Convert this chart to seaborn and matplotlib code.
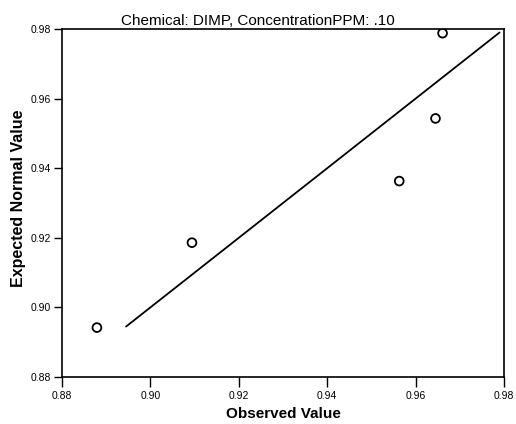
import matplotlib
matplotlib.use("Agg")
import matplotlib.pyplot as plt
import seaborn as sns
import pandas as pd

observed = [0.8879, 0.9094, 0.9563, 0.9645, 0.9661]
expected = [0.8942, 0.9186, 0.9363, 0.9543, 0.9788]
ref_line = [0.8945, 0.9790]
ticks = [0.88, 0.90, 0.92, 0.94, 0.96, 0.98]

sns.set_theme(style="white")
plt.rcParams['font.family'] = ['Liberation Sans', 'DejaVu Sans']

W, H = 516, 424
fig = plt.figure(figsize=(W / 100, H / 100), dpi=100)
ax = fig.add_axes([62/W, 1-377/H, (504-62)/W, (377-29)/H])

df = pd.DataFrame({"obs": observed, "exp": expected})
line_df = pd.DataFrame({"x": ref_line, "y": ref_line})

sns.lineplot(data=line_df, x="x", y="y", ax=ax, color="black", linewidth=1.3)
sns.scatterplot(data=df, x="obs", y="exp", ax=ax, marker="o", s=40,
                facecolor="none", edgecolor="black", linewidth=1.3, zorder=3)

ax.set_xlim(0.88, 0.98)
ax.set_ylim(0.88, 0.98)
ax.set_xticks(ticks)
ax.set_yticks(ticks)
ax.set_xticklabels([f"{t:.2f}" for t in ticks], fontsize=7.5)
ax.set_yticklabels([f"{t:.2f}" for t in ticks], fontsize=7.5)
ax.tick_params(axis="x", direction="out", length=7, width=1, color="black",
               labelcolor="black", pad=3, bottom=True)
ax.tick_params(axis="y", direction="out", length=6, width=1, color="black",
               labelcolor="black", pad=2, left=True)
for sp in ax.spines.values():
    sp.set_color("black")
    sp.set_linewidth(1.2)

ax.set_xlabel("")
ax.set_ylabel("")
fig.text(283/W, 1-418/H, "Observed Value", fontsize=11, fontweight="bold",
         color="black", ha="center", va="baseline")
fig.text(18.5/W, 1-198/H, "Expected Normal Value", fontsize=11.5, fontweight="bold",
         color="black", ha="center", va="center", rotation=90)
fig.text(258/W, 1-25/H, "Chemical: DIMP, ConcentrationPPM: .10", fontsize=11,
         color="black", ha="center", va="baseline")

fig.savefig("out.png", dpi=100)
